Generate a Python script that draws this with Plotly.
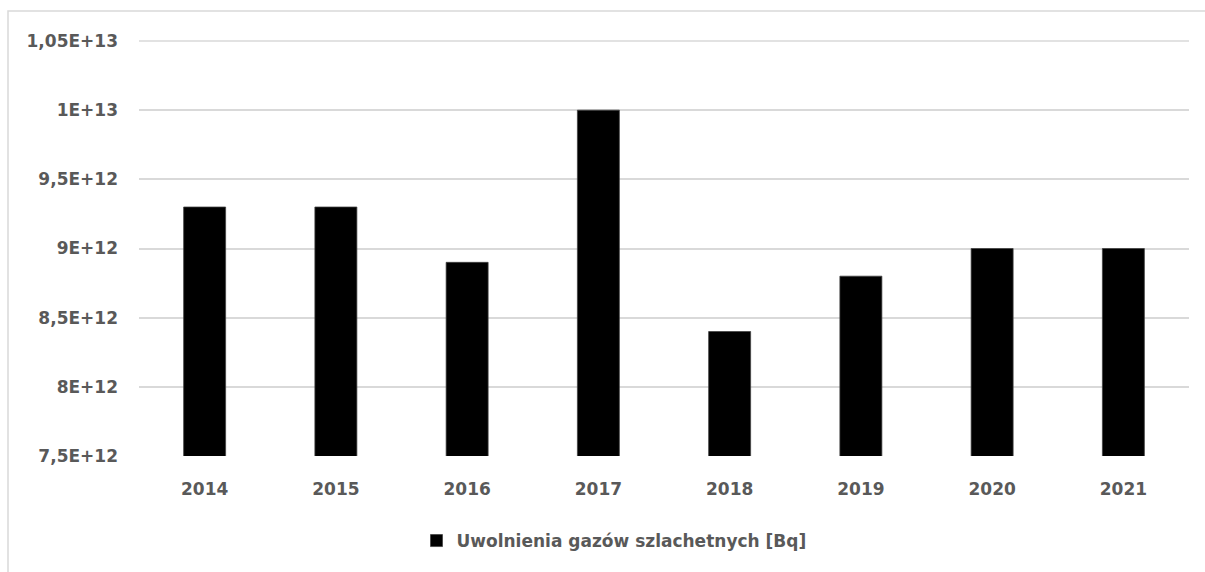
import plotly.graph_objects as go

years = ["2014", "2015", "2016", "2017", "2018", "2019", "2020", "2021"]
values = [9.3e12, 9.3e12, 8.9e12, 1.0e13, 8.4e12, 8.8e12, 9.0e12, 9.0e12]
series_name = "Uwolnienia gazów szlachetnych [Bq]"
tick_vals = [7.5e12, 8.0e12, 8.5e12, 9.0e12, 9.5e12, 1.0e13, 1.05e13]
tick_text = ["7,5E+12", "8E+12", "8,5E+12", "9E+12", "9,5E+12", "1E+13", "1,05E+13"]

W, H = 1205, 572
L, R, T, B = 139, 16, 41, 116
pw, ph = W - L - R, H - T - B

def px_x(x):
    return (x - L) / pw

def px_y(y):
    return (H - B - y) / ph

font_main = "'DejaVu Sans', sans-serif"
gray = "#595959"
grid = "#d9d9d9"

fig = go.Figure()
fig.add_trace(go.Bar(
    x=years, y=values, name=series_name,
    marker=dict(color="#000000", line=dict(color="#404040", width=0.75)),
    showlegend=True,
))

fig.update_layout(
    width=W, height=H,
    margin=dict(l=L, r=R, t=T, b=B),
    paper_bgcolor="white", plot_bgcolor="white",
    bargap=0.68,
    font=dict(family=font_main, color=gray, size=17),
    legend=dict(
        orientation="h", x=px_x(614), y=px_y(541), xanchor="center", yanchor="middle",
        font=dict(family=font_main, size=17, color=gray, weight="bold"),
        itemwidth=30,
    ),
    xaxis=dict(
        showgrid=False, showline=False, ticks="",
        tickfont=dict(family=font_main, size=17, color=gray, weight="bold"),
        ticklabelstandoff=21,
    ),
    yaxis=dict(
        range=[tick_vals[0], tick_vals[-1]], tickvals=tick_vals, ticktext=tick_text,
        showgrid=True, gridcolor=grid, gridwidth=1.5,
        zeroline=False, showline=False, ticks="",
        tickfont=dict(family=font_main, size=17, color=gray, weight="bold"),
        ticklabelstandoff=20,
    ),
    shapes=[
        dict(
            type="rect", xref="paper", yref="paper",
            x0=px_x(8), y0=px_y(600), x1=px_x(1230), y1=px_y(11),
            line=dict(color=grid, width=1.5), fillcolor="rgba(0,0,0,0)", layer="below",
        ),
        dict(
            type="line", xref="paper", yref="paper",
            x0=0, x1=1, y0=1, y1=1,
            line=dict(color=grid, width=1.5), layer="below",
        ),
    ],
)

fig.write_html(
    "out.html",
    config={"displayModeBar": False},
    post_script="document.body.style.margin='0';document.body.style.overflow='hidden';",
)
